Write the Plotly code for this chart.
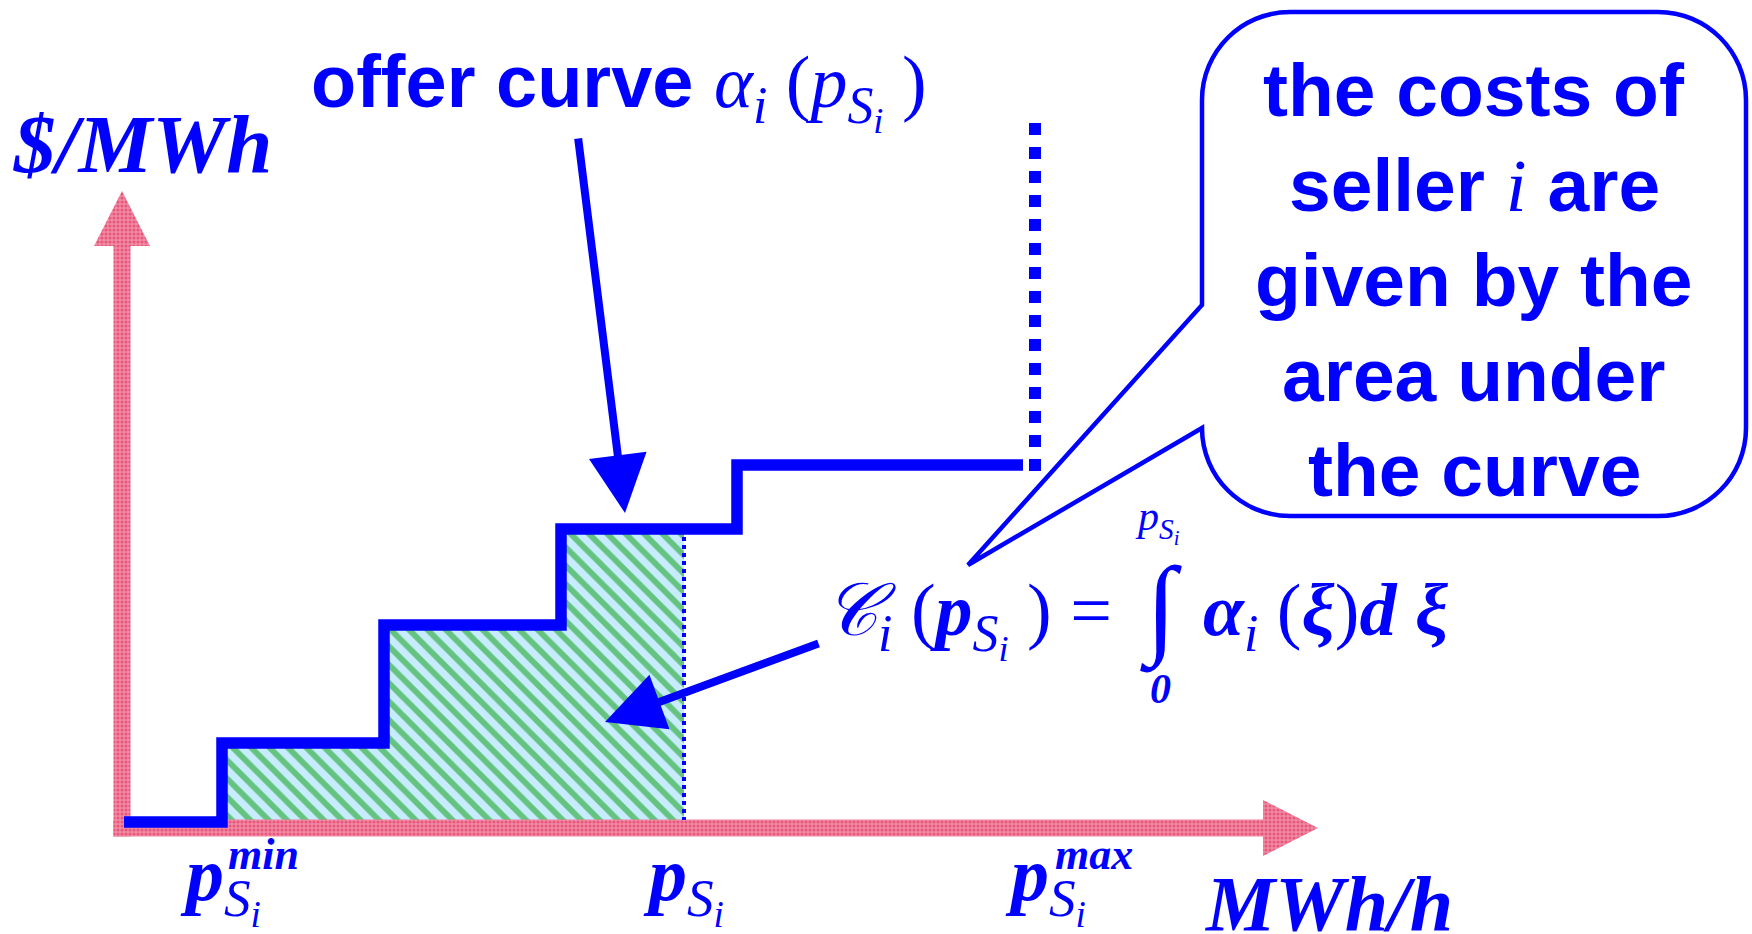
import plotly.graph_objects as go

# ---------------- data (schematic units: quantity along x, price along y) ----------------
# offer curve blocks: quantity interval [start, end] offered at a price
block_start = [2, 100, 262, 439, 615]
block_end = [100, 262, 439, 615, 901]
block_price = [6, 85, 203, 299, 363]

q_min = 100          # p_Si^min
q_dispatch = 562     # p_Si
q_max = 913          # p_Si^max
q_max_line_top = 705

axis_q_end = 1196      # tip of the quantity axis arrow
axis_price_end = 637   # tip of the price axis arrow

# ---------------- styling / layout constants ----------------
BLUE = "#0000FF"
SANS = "Liberation Sans"
SERIF = "Liberation Serif"
W, H = 1752, 934
X0, Y0 = 122, 828      # pixel position of the axis origin
SH, HH, HL = 8.5, 28, 55  # axis shaft half width, head half width, head length


def dx(xp):
    return xp - X0


def dy(yp):
    return Y0 - yp


fig = go.Figure()

# ---- hatched area under the curve between q_min and q_dispatch ----
hx, hy = [q_min], [0]
for s, e, p in zip(block_start, block_end, block_price):
    left, right = max(s, q_min), min(e, q_dispatch)
    if right > left:
        hx += [left, right]
        hy += [p, p]
hx += [q_dispatch, q_min]
hy += [0, 0]
fig.add_trace(go.Scatter(
    x=hx, y=hy, mode="lines", fill="toself", line=dict(width=0),
    fillpattern=dict(shape="\\", bgcolor="#C8ECFF", fgcolor="#009A00", size=13, solidity=0.45),
    hoverinfo="skip", showlegend=False))

# ---- pink axis arrows ----
pink_pattern = dict(shape=".", bgcolor="#F08CA6", fgcolor="#E02450", size=4, solidity=0.5)
E = axis_price_end
fig.add_trace(go.Scatter(
    x=[-SH, SH, SH, HH, 0, -HH, -SH, -SH],
    y=[-SH, -SH, E - HL, E - HL, E, E - HL, E - HL, -SH],
    mode="lines", fill="toself", line=dict(width=0), fillpattern=pink_pattern,
    hoverinfo="skip", showlegend=False))
Q = axis_q_end
fig.add_trace(go.Scatter(
    x=[-SH, Q - HL, Q - HL, Q, Q - HL, Q - HL, -SH, -SH],
    y=[-SH, -SH, -HH, 0, HH, SH, SH, -SH],
    mode="lines", fill="toself", line=dict(width=0), fillpattern=pink_pattern,
    hoverinfo="skip", showlegend=False))

# ---- offer curve ----
cx, cy = [], []
for s, e, p in zip(block_start, block_end, block_price):
    cx += [s, e]
    cy += [p, p]
fig.add_trace(go.Scatter(x=cx, y=cy, mode="lines", line=dict(color=BLUE, width=11.5),
                         hoverinfo="skip", showlegend=False))

# dotted line at p_Si
p_top = max(p for s, e, p in zip(block_start, block_end, block_price) if s < q_dispatch)
fig.add_trace(go.Scatter(x=[q_dispatch, q_dispatch], y=[p_top, 8], mode="lines",
                         line=dict(color=BLUE, width=4, dash="dot"),
                         hoverinfo="skip", showlegend=False))
# dotted line at p_Si^max
fig.add_trace(go.Scatter(x=[q_max, q_max], y=[q_max_line_top, block_price[-1] - 6], mode="lines",
                         line=dict(color=BLUE, width=12, dash="dot"),
                         hoverinfo="skip", showlegend=False))

# ---- callout balloon ----
L, R, T, B, r = dx(1202), dx(1746), dy(12), dy(516), 88
k = 0.5523
tail_up = dy(305)
tip = (dx(968), dy(565))
path = (
    f"M{L + r},{T} H{R - r} "
    f"C{R - r + k * r},{T} {R},{T - r + k * r} {R},{T - r} "
    f"V{B + r} "
    f"C{R},{B + r - k * r} {R - r + k * r},{B} {R - r},{B} "
    f"H{L + r} "
    f"C{L + r - k * r},{B} {L},{B + r - k * r} {L},{B + r} "
    f"L{tip[0]},{tip[1]} L{L},{tail_up} "
    f"V{T - r} "
    f"C{L},{T - r + k * r} {L + r - k * r},{T} {L + r},{T} Z"
)
shapes = [dict(type="path", path=path, xref="x", yref="y",
               line=dict(color=BLUE, width=4.5), fillcolor="white", layer="above")]

# ---- text ----
ASC_SANS, ASC_SERIF = 0.905, 0.891


def label(text, x_px, base_px, size, family, xanchor="left", asc=ASC_SERIF):
    return dict(text=text, x=dx(x_px), y=dy(base_px - asc * size), xref="x", yref="y",
                xanchor=xanchor, yanchor="top", showarrow=False, borderpad=0, borderwidth=0,
                font=dict(family=family, size=size, color=BLUE))


SUB_SI = "<sub><i>S</i><sub><i>i</i></sub></sub>"
ser = 'style="font-family:Liberation Serif"'
annotations = [
    label('<b>offer curve </b><span ' + ser + '><i>α</i><sub><i>i</i></sub> (<i>p</i>' + SUB_SI + ' )</span>',
          311, 107, 74, SANS, asc=ASC_SANS),
    label("<b><i>$/MWh</i></b>", 142, 172, 83, SERIF, xanchor="center"),
    label("<b><i>MWh/h</i></b>", 1328, 929, 78, SERIF, xanchor="center"),
    # axis tick labels
    label("<b><i>p</i></b>" + SUB_SI, 180, 900, 76, SERIF),
    label("<b><i>min</i></b>", 228, 869, 44, SERIF),
    label("<b><i>p</i></b>" + SUB_SI, 643, 900, 76, SERIF),
    label("<b><i>p</i></b>" + SUB_SI, 1005, 900, 76, SERIF),
    label("<b><i>max</i></b>", 1055, 869, 44, SERIF),
    # formula
    label("<i>𝒞</i><sub><i>i</i></sub> (<b><i>p</i></b>" + SUB_SI + " ) =", 824, 635, 74, SERIF),
    label("∫", 1161, 643, 110, SERIF, xanchor="center"),
    label("<i>p</i>" + SUB_SI, 1157, 530, 42, SERIF, xanchor="center"),
    label("<b><i>0</i></b>", 1160, 703, 42, SERIF, xanchor="center"),
    label("<b><i>α</i></b><sub><i>i</i></sub> (<b><i>ξ</i></b>)<b><i>d ξ</i></b>", 1203, 635, 74, SERIF),
]
callout_lines = [
    "<b>the costs of</b>",
    "<b>seller </b><span " + ser + "><i>i</i></span><b> are</b>",
    "<b>given by the</b>",
    "<b>area under</b>",
    "<b>the curve</b>",
]
callout_baselines = [116, 210.5, 306, 401, 496]
for t, b in zip(callout_lines, callout_baselines):
    annotations.append(label(t, 1474, b, 75, SANS, xanchor="center", asc=ASC_SANS))

# arrows
for (tx, ty), (hx_, hy_) in [((578, 137), (625, 513)), ((820, 643), (605, 722))]:
    annotations.append(dict(text="", x=dx(hx_), y=dy(hy_), ax=dx(tx), ay=dy(ty),
                            xref="x", yref="y", axref="x", ayref="y", showarrow=True,
                            arrowhead=2, arrowsize=1.45, arrowwidth=8, arrowcolor=BLUE,
                            standoff=0))

fig.update_layout(
    width=W, height=H, margin=dict(l=0, r=0, t=0, b=0),
    paper_bgcolor="white", plot_bgcolor="white",
    xaxis=dict(range=[-X0, W - X0], visible=False, fixedrange=True),
    yaxis=dict(range=[Y0 - H, Y0], visible=False, fixedrange=True),
    shapes=shapes, annotations=annotations, showlegend=False,
)

fig.write_html("out.html", config={"displayModeBar": False},
               post_script="document.body.style.margin='0';document.body.style.overflow='hidden';")
